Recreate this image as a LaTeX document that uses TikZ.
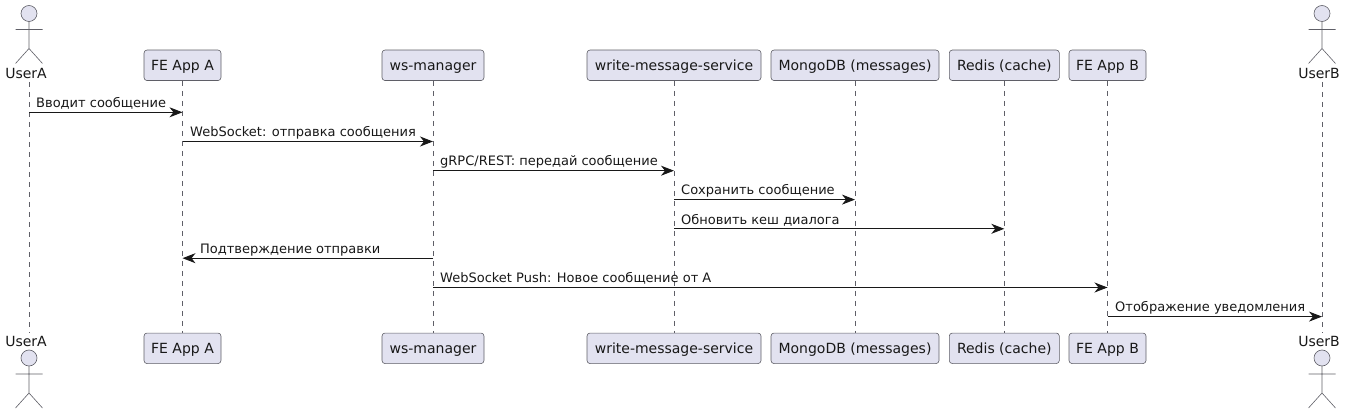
\documentclass[tikz,border=0pt]{standalone}
\usepackage{fontspec}
\setmainfont{DejaVu Sans}
\usetikzlibrary{arrows.meta}
\definecolor{pfill}{HTML}{E2E2F0}
\definecolor{pline}{HTML}{5F5F67}
\definecolor{ink}{HTML}{181818}
\tikzset{
  x=1pt,y=-1pt,
  partbox/.style={draw=pline,fill=pfill,rounded corners=3pt,line width=0.6pt,minimum height=30.5pt,inner sep=0pt,font=\fontsize{14}{16}\selectfont,text=ink,text height=13pt,text depth=3pt,anchor=center},
  lifeline/.style={draw=pline,line width=0.6pt,dash pattern=on 5pt off 5pt},
  actorshape/.style={draw=pline,line width=0.6pt},
  actorhead/.style={draw=pline,fill=pfill,line width=0.6pt},
  actorlabel/.style={font=\fontsize{14}{16}\selectfont,text=ink,inner sep=0pt,anchor=center},
  msg/.style={draw=ink,line width=1pt,-{Stealth[length=13pt,width=10pt,inset=4pt]}},
  msglabel/.style={font=\fontsize{13}{15}\selectfont,text=ink,inner sep=0pt,anchor=base west},
}
\newcommand{\actorfig}[2]{%
  \draw[actorhead] (#1,#2) circle (8);
  \draw[actorshape] (#1,#2+8) -- (#1,#2+35) (#1-13.5,#2+16) -- (#1+13.5,#2+16)
    (#1-13.5,#2+50) -- (#1,#2+35) -- (#1+13.5,#2+50);
}
\begin{document}
\begin{tikzpicture}
\useasboundingbox (0,0) rectangle (1346,414);
% lifeline ends
\coordinate (ua1) at (29,82);   \coordinate (ua2) at (29,333);
\coordinate (ub1) at (1322,82); \coordinate (ub2) at (1322,333);
% participants
\node[partbox,minimum width=77pt]  (fa)  at (182.5,65.3)  {FE App A};
\node[partbox,minimum width=102pt] (ws)  at (433,65.3)    {ws-manager};
\node[partbox,minimum width=174pt] (wr)  at (674,65.3)    {write-message-service};
\node[partbox,minimum width=168pt] (mg)  at (855,65.3)    {MongoDB (messages)};
\node[partbox,minimum width=110pt] (rd)  at (1004.3,65.3) {Redis (cache)};
\node[partbox,minimum width=77pt]  (fb)  at (1107.5,65.3) {FE App B};
\node[partbox,minimum width=77pt]  (fa2) at (182.5,348.3)  {FE App A};
\node[partbox,minimum width=102pt] (ws2) at (433,348.3)    {ws-manager};
\node[partbox,minimum width=174pt] (wr2) at (674,348.3)    {write-message-service};
\node[partbox,minimum width=168pt] (mg2) at (855,348.3)    {MongoDB (messages)};
\node[partbox,minimum width=110pt] (rd2) at (1004.3,348.3) {Redis (cache)};
\node[partbox,minimum width=77pt]  (fb2) at (1107.5,348.3) {FE App B};
% lifelines
\draw[lifeline] (ua1) -- (ua2);
\draw[lifeline] (fa.south) -- (fa2.north);
\draw[lifeline] (ws.south) -- (ws2.north);
\draw[lifeline] (wr.south) -- (wr2.north);
\draw[lifeline] (mg.south) -- (mg2.north);
\draw[lifeline] (rd.south) -- (rd2.north);
\draw[lifeline] (fb.south) -- (fb2.north);
\draw[lifeline] (ub1) -- (ub2);
% actors
\actorfig{29}{13.5}
\actorfig{1322}{13.5}
\actorfig{29}{358}
\actorfig{1322}{358}
\node[actorlabel] (la)  at (26,73)   {UserA};
\node[actorlabel] (lb)  at (1319,73) {UserB};
\node[actorlabel] (la2) at (26,341)  {UserA};
\node[actorlabel] (lb2) at (1319,341){UserB};
% message rows
\coordinate (m1) at (0,112.3);
\coordinate (m2) at (0,141.5);
\coordinate (m3) at (0,170.7);
\coordinate (m4) at (0,199.6);
\coordinate (m5) at (0,228.8);
\coordinate (m6) at (0,258.2);
\coordinate (m7) at (0,287.5);
\coordinate (m8) at (0,316.6);
\draw[msg] (ua1 |- m1) -- (fa |- m1);
\draw[msg] (fa |- m2) -- (ws |- m2);
\draw[msg] (ws |- m3) -- (wr |- m3);
\draw[msg] (wr |- m4) -- (mg |- m4);
\draw[msg] (wr |- m5) -- (rd |- m5);
\draw[msg] (ws |- m6) -- (fa |- m6);
\draw[msg] (ws |- m7) -- (fb |- m7);
\draw[msg] (fb |- m8) -- (ub1 |- m8);
\node[msglabel] (t1) at (36,107.3)   {Вводит сообщение};
\node[msglabel] (t2) at (190,136.5)  {WebSocket: отправка сообщения};
\node[msglabel] (t3) at (440,165.7)  {gRPC/REST: передай сообщение};
\node[msglabel] (t4) at (681,194.9)  {Сохранить сообщение};
\node[msglabel] (t5) at (681,224)    {Обновить кеш диалога};
\node[msglabel] (t6) at (200,253.3)  {Подтверждение отправки};
\node[msglabel] (t7) at (440,282.5)  {WebSocket Push: Новое сообщение от A};
\node[msglabel] (t8) at (1115,311.7) {Отображение уведомления};
\end{tikzpicture}
\end{document}
